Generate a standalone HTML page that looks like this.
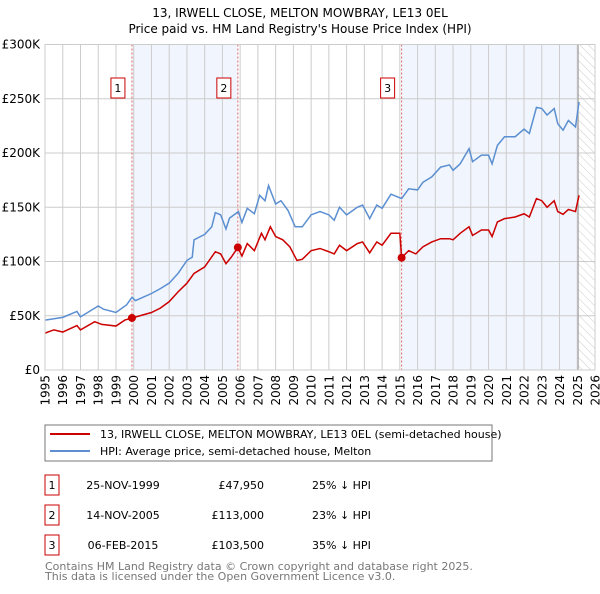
<!DOCTYPE html>
<html><head><meta charset="utf-8"><style>
body{margin:0;background:#fff;font-family:"DejaVu Sans","Liberation Sans",sans-serif;}
svg text{font-family:"DejaVu Sans","Liberation Sans",sans-serif;}
</style></head><body>
<svg id="c" width="600" height="590" viewBox="0 0 600 590">
<defs><pattern id="hatch" width="6" height="6" patternUnits="userSpaceOnUse" patternTransform="rotate(-45)"><line x1="0" y1="0" x2="0" y2="6" stroke="#ccc" stroke-width="1"/></pattern></defs>
<text x="300" y="17" text-anchor="middle" font-size="12">13, IRWELL CLOSE, MELTON MOWBRAY, LE13 0EL</text>
<text x="300" y="33" text-anchor="middle" font-size="12">Price paid vs. HM Land Registry's House Price Index (HPI)</text>
<g id="plot"></g>
<rect x="45" y="425" width="447" height="36" fill="#fff" stroke="#777"/>
<line x1="50" y1="434" x2="90" y2="434" stroke="#cc0000" stroke-width="2"/>
<text x="100" y="438" font-size="11">13, IRWELL CLOSE, MELTON MOWBRAY, LE13 0EL (semi-detached house)</text>
<line x1="50" y1="451" x2="90" y2="451" stroke="#5b8fd1" stroke-width="2"/>
<text x="100" y="455" font-size="11">HPI: Average price, semi-detached house, Melton</text>
<g id="table" font-size="11"></g>
<text x="45" y="570" font-size="11" fill="#777">Contains HM Land Registry data © Crown copyright and database right 2025.</text>
<text x="45" y="580" font-size="11" fill="#777">This data is licensed under the Open Government Licence v3.0.</text>
</svg>
<script>
const yearTicks=[1995,1996,1997,1998,1999,2000,2001,2002,2003,2004,2005,2006,2007,2008,2009,2010,2011,2012,2013,2014,2015,2016,2017,2018,2019,2020,2021,2022,2023,2024,2025,2026];
const yTicks=[0,50000,100000,150000,200000,250000,300000];
const yTickLabels=["£0","£50K","£100K","£150K","£200K","£250K","£300K"];
const hpiYears=[1995,1996,1996.8,1997,1998,1998.3,1999,1999.6,1999.9,2000.1,2001,2001.5,2002,2002.5,2003,2003.3,2003.4,2004,2004.4,2004.6,2004.9,2005.2,2005.4,2005.9,2006.1,2006.4,2006.8,2007.1,2007.4,2007.6,2008,2008.3,2008.7,2009.1,2009.5,2010,2010.5,2011,2011.3,2011.6,2012,2012.6,2012.9,2013.3,2013.7,2014,2014.5,2015.1,2015.5,2016,2016.3,2016.8,2017.3,2017.8,2018,2018.4,2018.9,2019.1,2019.6,2020,2020.2,2020.5,2020.9,2021.5,2022,2022.3,2022.7,2023,2023.3,2023.7,2023.9,2024.2,2024.5,2024.9,2025.1];
const hpiValues=[46,48.5,54,49,59,56,53,60,67,64,70.5,75,80,89,101,104,120,125,132,145,143,130,140,146,136,149,144,161,156,170,153,156,147,132,132,143,146,143,138,150,143,150,152,139.5,152,149,162,158,167,166,173,178,187,189,184,190,204,192,198,198,190,207,215,215,222,218,242,241,235,241,227,221,230,224,247];
const priceYears=[1995,1995.5,1996,1996.8,1997,1997.8,1998.2,1999,1999.5,1999.9,2001,2001.5,2002,2002.5,2003,2003.4,2004,2004.6,2004.9,2005.2,2005.5,2005.87,2006.1,2006.4,2006.8,2007.2,2007.4,2007.7,2008,2008.4,2008.8,2009.2,2009.5,2010,2010.5,2011,2011.3,2011.6,2012,2012.6,2012.9,2013.3,2013.7,2014,2014.5,2015.0,2015.1,2015.5,2015.9,2016.3,2016.8,2017.3,2017.8,2018,2018.4,2018.9,2019.1,2019.6,2020,2020.2,2020.5,2020.9,2021.5,2022,2022.3,2022.7,2023,2023.3,2023.7,2023.9,2024.2,2024.5,2024.9,2025.1];
const priceValues=[34,37,35,41,37,44.5,42,40.5,46,47.95,53,57,63,72,80,89,95,109,107,98,104,113,105,116.5,110,126,120,132,123,120,113.5,101,102,110,112,109,107,115,110,116.5,118,108,118,115,126,126,103.5,110,107,113.5,118,121,121,120,126,132,124,129,129,123,136.5,139.5,141,144,141,158,156,150,156,146,143.5,148,146,161];
const saleYears=[1999.9,2005.87,2015.1];
const saleValues=[47.95,113,103.5];
const saleLabels=["1","2","3"];
const saleDates=["25-NOV-1999","14-NOV-2005","06-FEB-2015"];
const salePrices=["£47,950","£113,000","£103,500"];
const saleHpi=["25% ↓ HPI","23% ↓ HPI","35% ↓ HPI"];
const dataEnd=2025.05;

const NS="http://www.w3.org/2000/svg";
const X0=45,X1=595,Y0=370,Y1=44.5;
const xs=y=>X0+(y-1995)/(2026-1995)*(X1-X0);
const ys=v=>Y0-v/300000*(Y0-Y1);
const yk=v=>ys(v*1000);
const plot=document.getElementById('plot');
function mk(tag,attrs,parent){const e=document.createElementNS(NS,tag);for(const k in attrs)e.setAttribute(k,attrs[k]);(parent||plot).appendChild(e);return e;}
let e;
e=mk('rect',{x:X0,y:Y1,width:X1-X0,height:Y0-Y1,fill:'#fff'});


e=mk('rect',{x:xs(saleYears[0]),y:Y1,width:xs(saleYears[1])-xs(saleYears[0]),height:Y0-Y1,fill:'#eef3fc',opacity:0.8});


e=mk('rect',{x:xs(saleYears[2]),y:Y1,width:xs(dataEnd)-xs(saleYears[2]),height:Y0-Y1,fill:'#eef3fc',opacity:0.8});


e=mk('rect',{x:xs(dataEnd),y:Y1,width:X1-xs(dataEnd),height:Y0-Y1,fill:'url(#hatch)'});


yearTicks.forEach(t=>{
 e=mk('line',{x1:xs(t),x2:xs(t),y1:Y1,y2:Y0,stroke:'#ccc','stroke-width':1});
 
 
 const lx=xs(t)+4.5,ly=375;
 e=mk('text',{x:lx,y:ly,'text-anchor':'end','font-size':12,transform:'rotate(-90 '+lx+' '+ly+')'});
 e.textContent=t;
 
 
});
yTicks.forEach((t,i)=>{
 e=mk('line',{x1:X0,x2:X1,y1:ys(t),y2:ys(t),stroke:'#ccc','stroke-width':1});
 
 
 e=mk('text',{x:40,y:ys(t)+4,'text-anchor':'end','font-size':12});
 e.textContent=yTickLabels[i];
 
 
});
e=mk('line',{x1:xs(dataEnd),x2:xs(dataEnd),y1:Y1,y2:Y0,stroke:'#999','stroke-width':1});


saleYears.forEach((s,i)=>{
 e=mk('line',{x1:xs(s),x2:xs(s),y1:Y1,y2:Y0,stroke:'#e06666','stroke-width':1,'stroke-dasharray':'2,2'});
 
 
});
e=mk('polyline',{points:hpiYears.map((y,i)=>xs(y)+','+yk(hpiValues[i])).join(' '),fill:'none',stroke:'#5b8fd1','stroke-width':1.5});


e=mk('polyline',{points:priceYears.map((y,i)=>xs(y)+','+yk(priceValues[i])).join(' '),fill:'none',stroke:'#cc0000','stroke-width':1.5});


saleYears.forEach((s,i)=>{
 e=mk('circle',{cx:xs(s),cy:yk(saleValues[i]),r:4,fill:'#cc0000'});
 
 
 e=mk('rect',{x:xs(s)-21,y:78,width:14,height:20,fill:'#fff',stroke:'#cc0000'});
 
 
 e=mk('text',{x:xs(s)-14,y:92,'text-anchor':'middle','font-size':11});
 e.textContent=saleLabels[i];
 
 
});
e=mk('rect',{x:X0,y:Y1,width:X1-X0,height:Y0-Y1,fill:'none',stroke:'#ccc'});


const tb=document.getElementById('table');
saleLabels.forEach((l,i)=>{
 const y=475+i*30;
 e=mk('rect',{x:45,y:y,width:14,height:20,fill:'#fff',stroke:'#cc0000'},tb);
 
 
 e=mk('text',{x:52,y:y+14,'text-anchor':'middle'},tb);e.textContent=l;
 
 
 e=mk('text',{x:123,y:y+14,'text-anchor':'middle'},tb);e.textContent=saleDates[i];
 
 
 e=mk('text',{x:264,y:y+14,'text-anchor':'end'},tb);e.textContent=salePrices[i];
 
 
 e=mk('text',{x:312,y:y+14},tb);e.textContent=saleHpi[i];
 
 
});
</script>
</body></html>
